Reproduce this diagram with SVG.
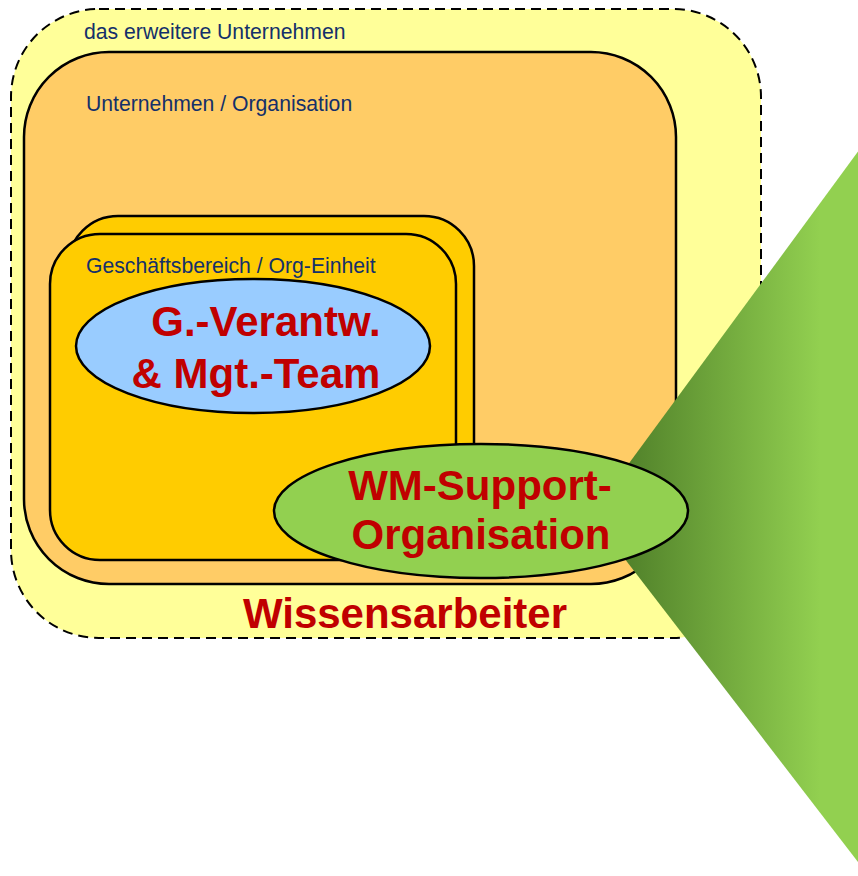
<svg xmlns="http://www.w3.org/2000/svg" width="858" height="876" viewBox="0 0 858 876">
  <style>
    .lbl { font-family: "Liberation Sans", Arial, sans-serif; font-size: 21.2px; fill: #14306A; }
    .big { font-family: "Liberation Sans", Arial, sans-serif; font-size: 42px; font-weight: bold; fill: #C00000; text-anchor: middle; }
    .box { stroke: #000; stroke-width: 2.5; }
  </style>
  <defs>
    <linearGradient id="gr" gradientUnits="userSpaceOnUse" x1="620" y1="0" x2="820" y2="0">
      <stop offset="0" stop-color="#4F7F29"/>
      <stop offset="1" stop-color="#92D050"/>
    </linearGradient>
  </defs>
  <rect width="858" height="876" fill="#FFFFFF"/>

  <g id="erweitertes-unternehmen">
    <rect x="11" y="9" width="750" height="629" rx="88" ry="88" fill="#FFFF99" stroke="#000" stroke-width="2" stroke-dasharray="10 6"/>
    <text class="lbl" x="84" y="39">das erweitere Unternehmen</text>
  </g>

  <g id="unternehmen">
    <rect class="box" x="24" y="52" width="652" height="532" rx="85" ry="85" fill="#FFCC66"/>
    <text class="lbl" x="86" y="111">Unternehmen / Organisation</text>
  </g>

  <g id="geschaeftsbereich">
    <rect class="box" x="68" y="216" width="406" height="326" rx="50" ry="50" fill="#FFCC00"/>
    <rect class="box" x="50" y="234" width="406" height="326" rx="50" ry="50" fill="#FFCC00"/>
    <text class="lbl" x="86" y="273">Geschäftsbereich / Org-Einheit</text>
  </g>

  <g id="management-team">
    <ellipse class="box" cx="253" cy="346" rx="177" ry="67" fill="#99CCFF"/>
    <text class="big" x="266" y="336">G.-Verantw.</text>
    <text class="big" x="256" y="388">&amp; Mgt.-Team</text>
  </g>

  <g id="zoom-keil">
    <polygon points="591,515 868,138 868,875" fill="url(#gr)"/>
  </g>

  <g id="wm-support">
    <ellipse class="box" cx="481" cy="511" rx="207" ry="67" fill="#92D050"/>
    <text class="big" x="480" y="500">WM-Support-</text>
    <text class="big" x="481" y="549">Organisation</text>
  </g>

  <g id="wissensarbeiter">
    <text class="big" x="405" y="628">Wissensarbeiter</text>
  </g>
</svg>
